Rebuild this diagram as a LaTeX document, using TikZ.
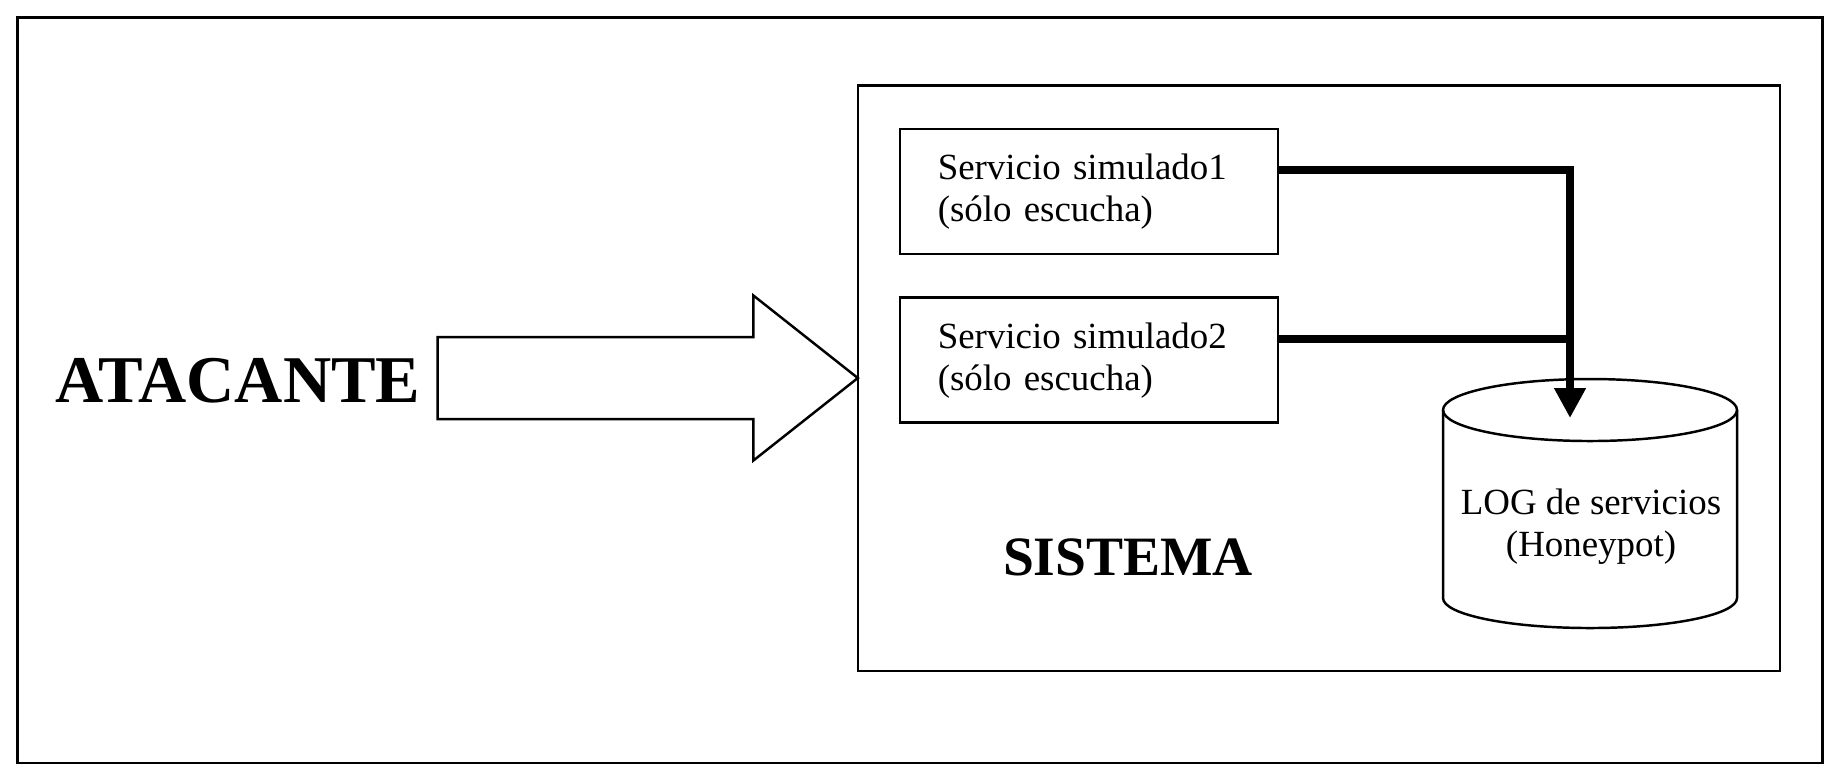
\documentclass[tikz,border=0pt]{standalone}
\usepackage{fontspec}
\setmainfont{Liberation Serif}
\usepackage{tikz}
\usetikzlibrary{positioning}
\usetikzlibrary{calc,arrows.meta}

\tikzset{
	thinline/.style={line width=0.7pt},
	service/.style={draw, thinline, align=left, text width=3.03cm,
		minimum height=1.25cm, inner xsep=0.375cm, inner ysep=0pt,
		font=\fontsize{10.5}{11.9}\selectfont},
	feed/.style={line width=2.3pt},
	feedarrow/.style={feed, -{Triangle[width=0.3cm,length=0.3cm]}},
}

\begin{document}
\begin{tikzpicture}
	
	% ------------------------------------------------
	% Ensure the dimensions of graphic are appropriate
	\useasboundingbox (0,0) rectangle (18.4,-7.78);
	
	% Outer frame
	\draw[thinline] (0.176,-0.176) rectangle (18.224,-7.628);
	
	% ------------------------------------------------
	% Relevant coordinates
	\coordinate (SysNW) at (8.578,-0.857);
	\coordinate (SysSE) at (17.802,-6.712);
	
	\coordinate (ArrowTail) at (4.377,-3.78);
	\path (ArrowTail) +(4.201,0) coordinate (ArrowTip);
	
	% Log cylinder: centre of top and bottom ellipse
	\coordinate (LogTop) at (15.90,-4.10);
	\path (LogTop) +(0,-1.88) coordinate (LogBot);
	
	% Feed lines end slightly left of the cylinder centre
	\path (LogTop) +(-0.20,-0.08) coordinate (LogIn);
	
	%%%%%%%%%%%%%%%%%%%%%%%%%%%%%%%%%%%%%%%%%
	% Attacker
	\node[font=\fontsize{19}{23}\selectfont\bfseries, anchor=base] (Atacante) at (2.38,-4.025) {ATACANTE};
	
	% Big hollow arrow
	\draw[thinline, fill=white] (ArrowTail) ++(0,0.41) -- ++(3.157,0) -- ++(0,0.415)
		-- (ArrowTip) -- ++(-1.044,-0.825) -- ++(0,0.415) -- ++(-3.157,0) -- cycle;
	
	% System box
	\draw[thinline] (SysNW) rectangle (SysSE);
	\node[font=\fontsize{15.8}{19}\selectfont\bfseries, anchor=base] (Sistema) at (11.28,-5.75) {SISTEMA};
	
	% Simulated services
	\node[service, anchor=north west] (Serv1) at (8.99,-1.28) {Servicio simulado1\\(sólo escucha)};
	\node[service, below=0.41cm of Serv1] (Serv2) {Servicio simulado2\\(sólo escucha)};
	
	% Draw the cylinder
	\draw[thinline] (LogTop) ellipse (1.47cm and 0.31cm);
	\draw[thinline] ($(LogTop)+(-1.47,0)$) -- ($(LogBot)+(-1.47,0)$)
		arc (180:360:1.47cm and 0.30cm) -- ($(LogTop)+(1.47,0)$);
	\node[align=center, font=\fontsize{10.5}{11.9}\selectfont] (Log) at (15.91,-5.27) {LOG de servicios\\(Honeypot)};
	
	% Feed lines
	\path ([yshift=2.15mm]Serv1.east) coordinate (Serv1Out);
	\path ([yshift=2.1mm]Serv2.east) coordinate (Serv2Out);
	
	\draw[feedarrow] (Serv1Out) -| (LogIn);
	\draw[feed] (Serv2Out) -- (Serv2Out -| LogIn);
	
\end{tikzpicture}
\end{document}
